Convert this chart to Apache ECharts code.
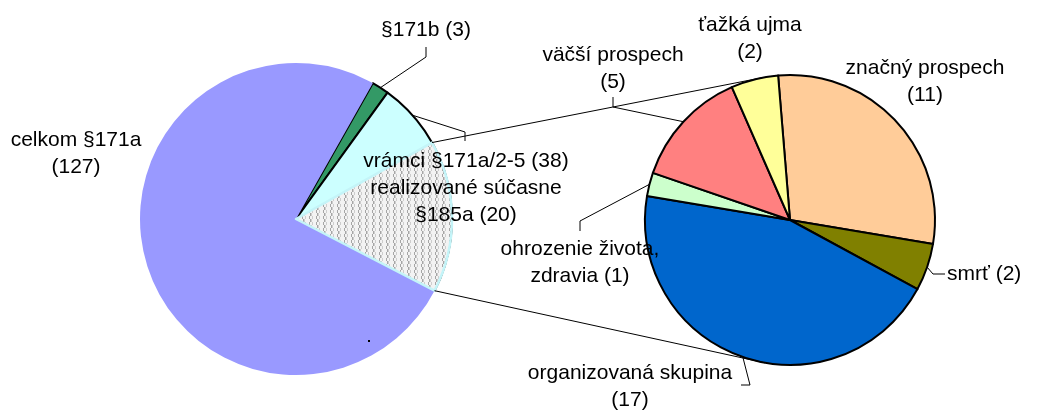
<!DOCTYPE html>
<html>
<head>
<meta charset="utf-8">
<script src="https://cdn.jsdelivr.net/npm/echarts@6/dist/echarts.min.js"></script>
<style>
  html, body { margin: 0; padding: 0; background: #fff; }
  #chart { width: 1042px; height: 410px; }
</style>
</head>
<body>
<div id="chart"></div>
<script>
// lavy kolac (v poradi od hornej hrany v smere hodinovych ruciciek)
const mainNames = ['§171b', 'vrámci §171a/2-5', 'celkom §171a']
const mainValues = [3, 38, 127]
// srafovana cast (podiel z celkom §171a)
const overlayName = 'realizované súčasne\n§185a'
const overlayValue = 20
// pravy kolac - rozpad 38 pripadov
const detailNames = ['značný prospech', 'smrť', 'organizovaná skupina', 'ohrozenie života,\nzdravia', 'väčší prospech', 'ťažká ujma']
const detailValues = [11, 2, 17, 1, 5, 2]

const L = { cx: 296, cy: 219, r: 156, start: 60.5 }
const R = { cx: 790, cy: 220, r: 145, start: 94.7 }

function pt (geo, deg) {
  const a = deg * Math.PI / 180
  return [geo.cx + geo.r * Math.cos(a), geo.cy - geo.r * Math.sin(a)]
}

function spans (values, start) {
  const total = values.reduce((s, v) => s + v, 0)
  let a = start
  return values.map(v => {
    const a0 = a
    a -= v / total * 360
    return { a0: a0, a1: a, mid: (a0 + a) / 2 }
  })
}

const mainAngles = spans(mainValues, L.start)
const celkom = mainValues[2]
// srafa konci na dolnej hrane vrámci vysece, velkost je 20 zo 127
const hatchEnd = mainAngles[1].a1
const hatchStart = hatchEnd + overlayValue / celkom * 360
const detailAngles = spans(detailValues, R.start)

function hatchPattern () {
  const c = document.createElement('canvas')
  c.width = 7
  c.height = 6
  const g = c.getContext('2d')
  g.fillStyle = '#f3f3f3'
  g.fillRect(0, 0, 7, 6)
  g.fillStyle = '#a6a6a6'
  g.fillRect(1, 0, 1, 3)
  g.fillRect(2, 3, 1, 3)
  g.fillStyle = '#cdcdcd'
  g.fillRect(4, 0, 1, 3)
  g.fillRect(3, 3, 1, 3)
  return c
}

// umiestnenie popisov (br = hodnota na novom riadku)
const mainLabels = [
  { x: 426, y: 30, line: [[426, 57], [426, 47]] },
  { x: 466, y: 161, from: (mainAngles[1].a0 + hatchStart) / 2, line: [[465, 132], [465, 141]] },
  { x: 76, y: 154, br: true }
]
const overlayLabels = [{ x: 466, y: 202 }]
const detailLabels = [
  { x: 925, y: 82, br: true },
  { x: 947, y: 274, align: 'left', line: [[933, 274], [945, 274]] },
  { x: 630, y: 387, br: true, line: [[750, 385], [741, 385]] },
  { x: 580, y: 263, line: [[580, 221], [580, 231]] },
  { x: 613, y: 69, br: true, line: [[613, 107], [613, 97]] },
  { x: 750, y: 39, br: true }
]

function layoutFor (table, angles, geo) {
  return function (params) {
    const item = table[params.dataIndex]
    if (!item) return {}
    const out = { x: item.x, y: item.y, align: item.align || 'center', verticalAlign: 'middle' }
    if (item.line) {
      const from = pt(geo, item.from !== undefined ? item.from : angles[params.dataIndex].mid)
      out.labelLinePoints = [from].concat(item.line)
    }
    return out
  }
}

function labelStyle (table) {
  return {
    show: true,
    position: 'outside',
    color: '#000',
    fontFamily: 'Liberation Sans, Arial, sans-serif',
    fontSize: 21,
    lineHeight: 27,
    overflow: 'none',
    formatter: p => {
      const item = table[p.dataIndex] || {}
      return p.name + (item.br ? '\n' : ' ') + '(' + p.value + ')'
    }
  }
}
const lineStyle = { show: true, lineStyle: { color: '#000', width: 1 } }
const black = { borderColor: '#000', borderWidth: 2 }

const mainColors = ['#339966', '#ccffff', '#9999ff']
const detailColors = ['#ffcc99', '#808000', '#0066cc', '#ccffcc', '#ff8080', '#ffff99']

const chart = echarts.init(document.getElementById('chart'))
chart.setOption({
  animation: false,
  backgroundColor: '#fff',
  graphic: [
    { type: 'line', z: 100, shape: { x1: pt(L, hatchStart)[0], y1: pt(L, hatchStart)[1], x2: pt(R, 101)[0], y2: pt(R, 101)[1] }, style: { stroke: '#000', lineWidth: 1 } },
    { type: 'line', z: 100, shape: { x1: pt(L, hatchEnd)[0], y1: pt(L, hatchEnd)[1], x2: pt(R, -100)[0], y2: pt(R, -100)[1] }, style: { stroke: '#000', lineWidth: 1 } },
    { type: 'rect', z: 100, shape: { x: 368, y: 340, width: 2, height: 2 }, style: { fill: '#000' } }
  ],
  series: [
    {
      type: 'pie',
      center: [L.cx, L.cy],
      radius: L.r,
      startAngle: L.start,
      silent: true,
      avoidLabelOverlap: false,
      label: labelStyle(mainLabels),
      labelLine: lineStyle,
      labelLayout: layoutFor(mainLabels, mainAngles, L),
      data: mainNames.map((n, i) => ({
        name: n,
        value: mainValues[i],
        itemStyle: Object.assign({ color: mainColors[i] }, i < 2 ? black : { borderWidth: 0 }),
        labelLine: { show: i < 2 }
      }))
    },
    {
      type: 'pie',
      center: [L.cx, L.cy],
      radius: L.r,
      startAngle: hatchStart,
      silent: true,
      avoidLabelOverlap: false,
      label: labelStyle(overlayLabels),
      labelLine: { show: false },
      labelLayout: layoutFor(overlayLabels, [], L),
      data: [
        { name: overlayName, value: overlayValue, itemStyle: { color: { image: hatchPattern(), repeat: 'repeat' }, borderColor: '#c4f4f8', borderWidth: 2.5 } },
        { name: '', value: celkom - overlayValue, itemStyle: { color: 'transparent', borderWidth: 0 }, label: { show: false } }
      ]
    },
    {
      type: 'pie',
      center: [R.cx, R.cy],
      radius: R.r,
      startAngle: R.start,
      silent: true,
      avoidLabelOverlap: false,
      label: labelStyle(detailLabels),
      labelLine: lineStyle,
      labelLayout: layoutFor(detailLabels, detailAngles, R),
      data: detailNames.map((n, i) => ({
        name: n,
        value: detailValues[i],
        itemStyle: Object.assign({ color: detailColors[i] }, black),
        labelLine: { show: !!detailLabels[i].line }
      }))
    }
  ]
})
</script>
</body>
</html>
